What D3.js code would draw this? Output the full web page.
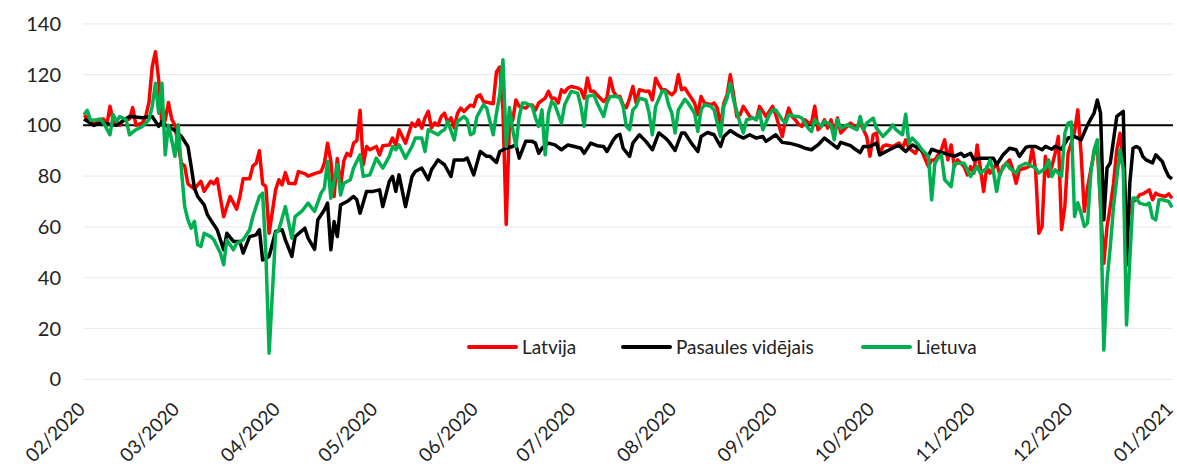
<html>
<head>
<meta charset="utf-8">
<script src="https://d3js.org/d3.v7.min.js"></script>
<style>
  body { margin: 0; background: #fff; }
  text { font-family: Lato, "Open Sans", sans-serif; fill: #222; }
</style>
</head>
<body>
<svg width="1177" height="468"></svg>
<script>
// day offsets from 2020-02-01, value
const startDate = new Date(2020, 1, 1);
const endDate = new Date(2021, 0, 1);
const yTicks = [0, 20, 40, 60, 80, 100, 120, 140];
const xTickMonths = ["02/2020","03/2020","04/2020","05/2020","06/2020","07/2020","08/2020","09/2020","10/2020","11/2020","12/2020","01/2021"];
const seriesNames = ["Latvija", "Pasaules vidējais", "Lietuva"];
const seriesColors = ["#ff0000", "#000000", "#00b050"];

const latvija = [[0,104],[2,102],[3,100],[4,102],[6,102.5],[7,100],[8,107.5],[9,102],[11,100],[12,102],[14,102.5],[15,107],[16,100],[18,101],[19,103.5],[20,109],[21,123],[22,129],[23,118],[24,100],[25,102],[26,109],[27,102.5],[28,100],
[29,92],[30,85],[31,84],[32,77],[34,75],[36,78],[37,74],[38,76],[39,78],[40,77],[41,79],[43,64],[45,72],[47,67],[48,72],[49,79],[51,79],[52,84],[53,85],[54,90],[55,77],[56,76],[57,57.5],
[59,74.6],[60,78.6],[61,76.6],[62,81.4],[63,77.2],[65,77],[66,81.8],[68,81],[69,80],[71,81],[73,81.8],[74,85],[75,93],[76,86],[77,72],[78,87],[79,76],[80,86],[81,89],[82,88],[83,93],[84,94],[85,106],[86,84.5],[87,91.7],[88,90.4],[90,91.7],[91,88.4],[92,92],[94,92.3],[95,95],[96,92.3],[97,98.3],[98,95.6],[99,93],[101,100.9],[102,99.6],[103,102.2],[104,98.9],[105,103],[106,105.5],[107,99],[108,101],[109,100],
[110,103.5],[111,104.8],[112,101],[113,103],[114,99],[115,104.8],[116,106.8],[117,105.5],[119,108],[120,107.5],[121,111.4],[122,112],[123,109.4],[125,108.8],[126,108.5],[127,121],[128,123],[129,106],[130,61],[131,101],[132,102],[133,110],[134,107.5],[136,106.8],[137,108],[138,108],[139,106],[140,108.8],[142,110.7],[143,113.4],[144,110.7],[145,110.7],[146,108.8],[147,114],[148,113],[149,114.7],[150,115.3],[152,114.7],[153,114],[154,110.7],[155,118.6],[156,113.4],[157,113.4],[158,112],[160,109.4],[161,110.7],[162,118.6],[163,113.4],[164,111.4],[165,111.4],[166,108],[167,107],[168,110.7],
[169,115.3],[170,108.8],[171,114],[173,113.4],[174,113.4],[175,110],[176,118.6],[177,116],[178,114],[179,114],[181,112],[182,113.4],[183,119.9],[184,114],[185,114.7],[186,112.7],[188,108.8],[189,104.2],[190,111.4],[191,108.8],[193,108.1],[194,108.8],[195,106.8],[196,99.6],[197,108.8],[198,112],[199,119.9],[200,112],[201,103.5],[202,104.2],[203,107.5],[204,105.5],[205,103.5],[207,102.2],[208,107.5],[210,103.5],[212,107.5],[213,104.2],[215,95.6],[216,102.2],[217,106.8],[218,103.5],[219,102.2],[220,100.5],[221,99.6],[222,102.2],[223,101],[224,100.9],[225,107.5],[226,98.3],[227,99.6],[228,102.2],[229,98.9],[230,102.2],[231,97],[232,102.9],[233,97],[235,99.6],[236,100.9],[238,98.9],[239,100.9],[240,98.3],[241,95.6],[242,87.8],[243,96.3],[244,97],[245,88.4],[246,91.7],[247,92.3],[249,91.7],[251,93],[252,91],[253,94.3],[254,91],[256,89],[257,91.7],[258,89.7],[260,83.8],[261,86.4],[262,86.4],[264,90.4],[265,94.3],[266,86.4],[267,92.3],[268,83.8],[269,86.4],[271,83.8],[272,80.5],[273,83.8],[274,81.2],[275,92.3],[277,74],[278,83.8],[279,81.2],[281,85],[282,80.5],[283,83.8],[285,86.4],[286,82.5],[287,77.2],[288,82.5],[290,83.2],[291,83.8],[292,91],[293,82.5],[294,57.5],[295,60.2],[296,87.8],[297,79.9],[298,83.8],[299,89],[300,95.6],[301,58.9],[302,68],[303,89],[304,93],[305,97.6],[306,106.1],[307,89],[308,66.1],[309,75.3],[310,82.5],[311,89],[312,91.7],[313,68],[314,45.7],[315,60.2],[316,68],[317,77.2],[318,90.4],[319,96.9],[320,85],[321,62],[322,66],[323,70],[324,70.7],[325,72.6],[326,73],[328,74.6],[329,70.7],[330,73.3],[331,72.6],[333,72],[334,73],[335,71.3]];

const pasaule = [[0,102.5],[3,100],[5,101],[10,100],[14,103.5],[18,103],[21,103.5],[23,99.6],[24,101.5],[25,100.2],[28,98],[30,95.6],[32,91.7],[33,83.8],[34,75.3],[35,72],[37,68.7],[38,64.8],[39,62.8],[41,58.9],[43,51],[44,57.5],[46,54.3],[48,54.3],[49,49.7],[51,56.2],[53,56.9],[54,58.9],[55,47],[57,48.4],[59,58.2],[61,58.9],[62,54.9],[64,48.4],[65,56.2],[68,59.5],[69,55.6],[71,51.2],[72,62.8],[74,66.7],[75,69.4],[76,51],[77,62.1],[78,56.2],[79,68.7],[81,70],[83,72],[84,70.7],[85,65.4],[87,74],[89,74],[91,74.6],[92,68],[94,77.9],[95,79.9],[96,74],[97,80.5],[99,68],[101,79.9],[102,81.8],[104,83.2],[106,78.6],[107,82.5],[109,86.4],[111,84.5],[113,79.9],[114,86.4],[117,86.4],[118,87.1],[120,80.5],[122,89.7],[124,87.8],[125,87.8],[127,85.4],[128,89.7],[130,91],[132,91.7],[133,92.3],[134,87.1],[136,93.7],[138,93.7],[139,93],[140,89],[141,91],[143,93],[145,92.3],[147,90.4],[149,92.3],[151,91.7],[153,91],[154,89],[156,93],[158,92],[160,91.7],[161,89.7],[163,94.3],[164,95.9],[165,96.5],[166,91],[168,87.8],[169,93],[171,96.3],[173,93.7],[175,90.4],[177,97],[179,95],[180,93.7],[182,90.1],[184,97],[185,97],[187,93],[189,89.7],[190,95.6],[192,97.2],[194,96.3],[196,91.7],[197,95.6],[199,98],[201,96.3],[203,95],[205,96.3],[207,95],[209,95.6],[210,93.7],[213,96.3],[215,93.3],[217,93],[218,92.7],[220,92],[222,91],[224,90.4],[226,92.3],[228,95],[230,93],[232,91],[233,93.3],[236,92],[237,91],[239,89.3],[240,91.7],[242,91.7],[244,93],[245,88.4],[248,90.4],[250,91.7],[251,92],[253,89.7],[255,92.3],[257,91],[259,89],[260,88],[261,90.6],[263,89.7],[265,89],[268,87.8],[270,89],[271,87.8],[273,89],[274,86.4],[276,87.1],[280,87.1],[281,84.5],[283,88.4],[285,91],[287,90.4],[288,87.8],[290,91.3],[291,91.7],[293,91.7],[295,90.4],[296,91.7],[298,90.6],[299,91.7],[301,90.6],[303,95],[305,95.6],[307,94.3],[309,100.2],[311,104.8],[312,110],[313,104.8],[314,62.8],[315,83.2],[316,85.2],[317,94.3],[318,103.5],[320,105.5],[321,45],[322,77.2],[323,91],[324,91.7],[325,91],[326,87.8],[327,86.4],[329,85.2],[330,88.4],[332,85.8],[333,82.5],[334,79.9],[335,78.9]];

const lietuva = [[0,104.2],[1,105.9],[2,102],[4,102.2],[5,102.5],[6,101],[8,96.3],[9,104.2],[10,101.5],[11,103.5],[13,102.2],[14,96.3],[16,98.3],[18,99.6],[20,102.2],[21,107.5],[22,116.6],[23,104.8],[24,116.6],[25,88.4],[26,100],[27,94.3],[28,87.8],[29,100.2],[30,82.5],[31,68],[32,62.8],[33,59.5],[34,62.2],[35,53],[36,52.3],[37,57.5],[39,56.2],[40,54.9],[42,49.7],[43,45.1],[44,54.9],[46,51],[47,53.5],[49,54.9],[51,58.9],[52,64.1],[54,72],[55,73.3],[56,49.7],[57,10.3],[59,57.5],[60,58.9],[62,68],[64,55.6],[65,64.1],[67,66.1],[69,69.4],[71,66.1],[73,73.3],[74,75.3],[75,85.8],[76,71.3],[78,84.5],[79,72.6],[80,77.2],[82,78.6],[83,83.2],[85,88.4],[86,79.9],[88,80.5],[90,87.1],[91,85.1],[92,83.2],[94,87.8],[95,91.7],[96,90.4],[97,92.3],[98,89.7],[99,87.1],[101,91.7],[102,95],[104,95],[105,89.7],[106,98.3],[108,97],[109,96.3],[110,97.6],[111,98.3],[112,101.5],[114,94.3],[115,101.5],[117,103.5],[118,102.2],[119,96.3],[120,97],[121,103.5],[123,108.1],[124,106.8],[126,96.3],[127,104.8],[128,112],[129,125.8],[130,91.7],[131,107],[132,98.3],[133,91.7],[134,103.5],[135,108.8],[136,108.8],[138,107.5],[139,103],[140,99.6],[141,106.1],[142,88.4],[143,104.8],[144,109.4],[145,108.1],[147,100.9],[148,108.1],[150,113.4],[152,112.7],[153,107.5],[154,99.6],[155,111.4],[157,112],[158,108.8],[160,103.5],[161,108.8],[162,111.4],[164,111.4],[165,110.7],[166,107.5],[167,99.6],[168,98.3],[169,106.1],[170,107.5],[171,110.7],[173,110],[174,104.8],[175,96.3],[176,107.5],[178,113.4],[179,113.4],[180,108.1],[181,104.8],[182,97],[183,106.1],[185,110.3],[186,108.8],[188,104.8],[189,97.6],[190,106.1],[191,108.1],[193,107.5],[194,106.1],[196,95.6],[197,107.5],[198,110.7],[199,116.6],[200,110],[201,105.5],[202,100.9],[203,97],[204,102.2],[206,102.9],[207,102.2],[208,105.5],[209,98.3],[211,104.2],[212,106.1],[213,106.1],[215,102.2],[216,100.9],[217,104.2],[219,103.5],[220,103.5],[221,102.9],[222,100.9],[223,98.9],[224,97.6],[225,102.2],[227,99.6],[228,101.5],[230,100.2],[231,94.3],[232,102.2],[233,98.9],[235,100.2],[236,99.6],[238,98.3],[239,103.5],[240,98.3],[241,100.9],[243,102.9],[244,98.9],[246,95.6],[248,98.3],[249,100.2],[250,98.3],[252,96.3],[253,104.4],[254,93],[255,95],[257,92.3],[258,90.4],[260,87.8],[261,70.7],[262,85.1],[263,87.1],[264,88.4],[265,78.6],[267,75.9],[268,85.1],[271,85.1],[272,82.5],[273,79.9],[275,83.8],[276,81.2],[278,83.2],[279,86.4],[280,81.8],[281,74],[282,81.2],[284,85.1],[285,83.2],[287,81.2],[288,83.8],[290,85.1],[292,83.8],[293,83.2],[294,81.2],[296,83.2],[297,86.4],[298,79.9],[299,82.5],[301,79.9],[302,96.9],[303,100.9],[304,101.3],[305,64.1],[306,69.5],[307,65.4],[308,60.2],[309,61.5],[310,81.2],[311,90.4],[312,94.3],[313,69.4],[314,11.5],[315,39],[316,52.3],[317,68],[319,90.4],[320,82.5],[321,21.4],[322,47],[323,71.4],[324,71.3],[325,69.4],[327,68.7],[328,69.4],[329,63.6],[330,62.8],[331,70.7],[332,70.7],[334,70],[335,67.7]];

const allSeries = [latvija, pasaule, lietuva];

const svg = d3.select("svg");
const x = d3.scaleTime().domain([startDate, endDate]).range([84, 1172]);
const y = d3.scaleLinear().domain([0, 140]).range([379.3, 23.8]);

// gridlines
svg.append("g").selectAll("line").data(yTicks).enter().append("line")
  .attr("x1", 83).attr("x2", 1173)
  .attr("y1", d => y(d)).attr("y2", d => y(d))
  .attr("stroke", "#ececec").attr("stroke-width", 1.2);

// y labels
svg.append("g").selectAll("text").data(yTicks).enter().append("text")
  .attr("x", 61).attr("y", d => y(d)).attr("dy", "0.35em")
  .attr("text-anchor", "end").style("font-size", "20px")
  .text(d => d);

// x labels
const monthDates = xTickMonths.map((m, i) => d3.timeMonth.offset(startDate, i));
svg.append("g").selectAll("text").data(monthDates).enter().append("text")
  .attr("transform", d => "translate(" + (x(d) - 7) + ",401) rotate(-45)")
  .attr("text-anchor", "end").attr("dy", "0.7em")
  .style("font-size", "19px")
  .text((d, i) => xTickMonths[i]);

// 100 line
svg.append("line")
  .attr("x1", 83).attr("x2", 1173)
  .attr("y1", y(100)).attr("y2", y(100))
  .attr("stroke", "#000").attr("stroke-width", 2);

const line = d3.line()
  .x(d => x(d3.timeDay.offset(startDate, d[0])))
  .y(d => y(d[1]));

allSeries.forEach((s, i) => {
  svg.append("path").datum(s)
    .attr("d", line)
    .attr("fill", "none")
    .attr("stroke", seriesColors[i])
    .attr("stroke-width", 3.5)
    .attr("stroke-linejoin", "round");
});

// legend
const legendX = [469, 623, 863];
const lg = svg.append("g").selectAll("g").data(seriesNames).enter().append("g")
  .attr("transform", (d, i) => "translate(" + legendX[i] + ",347)");
lg.append("line").attr("x1", 0).attr("x2", 47).attr("y1", 0).attr("y2", 0)
  .attr("stroke", (d, i) => seriesColors[i]).attr("stroke-width", 4).attr("stroke-linecap", "round");
lg.append("text").attr("x", 53).attr("dy", "0.35em").style("font-size", "19px").text(d => d);
</script>
</body>
</html>
